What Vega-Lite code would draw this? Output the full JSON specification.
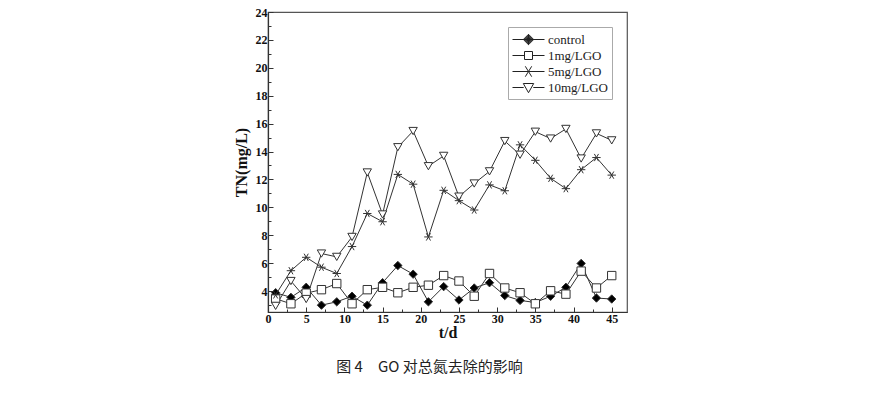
{
  "$schema": "https://vega.github.io/schema/vega-lite/v6.json",
  "width": 359,
  "height": 300,
  "autosize": "none",
  "padding": {"left": 268, "top": 12, "right": 262, "bottom": 83},
  "background": "white",
  "config": {
    "view": {"stroke": "#555", "strokeWidth": 1.2},
    "font": "Liberation Serif"
  },
  "title": {
    "text": "图 4　GO 对总氮去除的影响",
    "orient": "bottom",
    "anchor": "middle",
    "offset": 20,
    "font": "Noto Sans CJK SC",
    "fontSize": 15,
    "fontWeight": "normal",
    "color": "#222",
    "dx": -18
  },
  "data": {
    "values": [
      {"t": 1, "s": "control", "v": 3.88},
      {"t": 3, "s": "control", "v": 3.55},
      {"t": 5, "s": "control", "v": 4.27},
      {"t": 7, "s": "control", "v": 2.99},
      {"t": 9, "s": "control", "v": 3.23},
      {"t": 11, "s": "control", "v": 3.63},
      {"t": 13, "s": "control", "v": 2.99},
      {"t": 15, "s": "control", "v": 4.6},
      {"t": 17, "s": "control", "v": 5.83},
      {"t": 19, "s": "control", "v": 5.21},
      {"t": 21, "s": "control", "v": 3.23},
      {"t": 23, "s": "control", "v": 4.32},
      {"t": 25, "s": "control", "v": 3.36},
      {"t": 27, "s": "control", "v": 4.22},
      {"t": 29, "s": "control", "v": 4.6},
      {"t": 31, "s": "control", "v": 3.68},
      {"t": 33, "s": "control", "v": 3.33},
      {"t": 35, "s": "control", "v": 3.18},
      {"t": 37, "s": "control", "v": 3.63},
      {"t": 39, "s": "control", "v": 4.27},
      {"t": 41, "s": "control", "v": 5.98},
      {"t": 43, "s": "control", "v": 3.5},
      {"t": 45, "s": "control", "v": 3.43},
      {"t": 1, "s": "1mg/LGO", "v": 3.45},
      {"t": 3, "s": "1mg/LGO", "v": 3.09},
      {"t": 5, "s": "1mg/LGO", "v": 3.85},
      {"t": 7, "s": "1mg/LGO", "v": 4.1},
      {"t": 9, "s": "1mg/LGO", "v": 4.54},
      {"t": 11, "s": "1mg/LGO", "v": 3.09},
      {"t": 13, "s": "1mg/LGO", "v": 4.1},
      {"t": 15, "s": "1mg/LGO", "v": 4.27},
      {"t": 17, "s": "1mg/LGO", "v": 3.88},
      {"t": 19, "s": "1mg/LGO", "v": 4.27},
      {"t": 21, "s": "1mg/LGO", "v": 4.42},
      {"t": 23, "s": "1mg/LGO", "v": 5.11},
      {"t": 25, "s": "1mg/LGO", "v": 4.72},
      {"t": 27, "s": "1mg/LGO", "v": 3.63},
      {"t": 29, "s": "1mg/LGO", "v": 5.26},
      {"t": 31, "s": "1mg/LGO", "v": 4.22},
      {"t": 33, "s": "1mg/LGO", "v": 3.88},
      {"t": 35, "s": "1mg/LGO", "v": 3.09},
      {"t": 37, "s": "1mg/LGO", "v": 4.02},
      {"t": 39, "s": "1mg/LGO", "v": 3.78},
      {"t": 41, "s": "1mg/LGO", "v": 5.43},
      {"t": 43, "s": "1mg/LGO", "v": 4.22},
      {"t": 45, "s": "1mg/LGO", "v": 5.11},
      {"t": 1, "s": "5mg/LGO", "v": 3.73},
      {"t": 3, "s": "5mg/LGO", "v": 5.46},
      {"t": 5, "s": "5mg/LGO", "v": 6.42},
      {"t": 7, "s": "5mg/LGO", "v": 5.71},
      {"t": 9, "s": "5mg/LGO", "v": 5.26},
      {"t": 11, "s": "5mg/LGO", "v": 7.19},
      {"t": 13, "s": "5mg/LGO", "v": 9.56},
      {"t": 15, "s": "5mg/LGO", "v": 8.97},
      {"t": 17, "s": "5mg/LGO", "v": 12.36},
      {"t": 19, "s": "5mg/LGO", "v": 11.66},
      {"t": 21, "s": "5mg/LGO", "v": 7.88},
      {"t": 23, "s": "5mg/LGO", "v": 11.22},
      {"t": 25, "s": "5mg/LGO", "v": 10.48},
      {"t": 27, "s": "5mg/LGO", "v": 9.81},
      {"t": 29, "s": "5mg/LGO", "v": 11.61},
      {"t": 31, "s": "5mg/LGO", "v": 11.19},
      {"t": 33, "s": "5mg/LGO", "v": 14.48},
      {"t": 35, "s": "5mg/LGO", "v": 13.37},
      {"t": 37, "s": "5mg/LGO", "v": 12.08},
      {"t": 39, "s": "5mg/LGO", "v": 11.34},
      {"t": 41, "s": "5mg/LGO", "v": 12.7},
      {"t": 43, "s": "5mg/LGO", "v": 13.57},
      {"t": 45, "s": "5mg/LGO", "v": 12.31},
      {"t": 1, "s": "10mg/LGO", "v": 2.94},
      {"t": 3, "s": "10mg/LGO", "v": 4.72},
      {"t": 5, "s": "10mg/LGO", "v": 3.43},
      {"t": 7, "s": "10mg/LGO", "v": 6.69},
      {"t": 9, "s": "10mg/LGO", "v": 6.45},
      {"t": 11, "s": "10mg/LGO", "v": 7.88},
      {"t": 13, "s": "10mg/LGO", "v": 12.5},
      {"t": 15, "s": "10mg/LGO", "v": 9.49},
      {"t": 17, "s": "10mg/LGO", "v": 14.31},
      {"t": 19, "s": "10mg/LGO", "v": 15.47},
      {"t": 21, "s": "10mg/LGO", "v": 12.95},
      {"t": 23, "s": "10mg/LGO", "v": 13.69},
      {"t": 25, "s": "10mg/LGO", "v": 10.77},
      {"t": 27, "s": "10mg/LGO", "v": 11.71},
      {"t": 29, "s": "10mg/LGO", "v": 12.58},
      {"t": 31, "s": "10mg/LGO", "v": 14.75},
      {"t": 33, "s": "10mg/LGO", "v": 13.77},
      {"t": 35, "s": "10mg/LGO", "v": 15.42},
      {"t": 37, "s": "10mg/LGO", "v": 14.93},
      {"t": 39, "s": "10mg/LGO", "v": 15.62},
      {"t": 41, "s": "10mg/LGO", "v": 13.5},
      {"t": 43, "s": "10mg/LGO", "v": 15.3},
      {"t": 45, "s": "10mg/LGO", "v": 14.8}
    ]
  },
  "encoding": {
    "x": {
      "field": "t",
      "type": "quantitative",
      "scale": {"domain": [0, 47], "nice": false, "zero": false},
      "axis": {
        "title": "t/d",
        "titleFont": "Liberation Serif",
        "titleFontSize": 16,
        "titleFontWeight": "bold",
        "titleColor": "#111",
        "titlePadding": 0,
        "values": [0, 2.5, 5, 7.5, 10, 12.5, 15, 17.5, 20, 22.5, 25, 27.5, 30, 32.5, 35, 37.5, 40, 42.5, 45],
        "labelExpr": "datum.value % 5 === 0 ? datum.label : ''",
        "labelFont": "Liberation Serif",
        "labelFontSize": 12,
        "labelFontWeight": "bold",
        "labelColor": "#111",
        "labelPadding": 6,
        "tickSize": {"condition": {"test": "datum.value % 5 !== 0", "value": -3}, "value": -5},
        "tickColor": "#333",
        "domainColor": "#333",
        "domainWidth": 1.2,
        "grid": false,
        "labelFlush": false
      }
    },
    "y": {
      "field": "v",
      "type": "quantitative",
      "scale": {"domain": [2.5, 24], "nice": false, "zero": false},
      "axis": {
        "title": "TN(mg/L)",
        "titleFont": "Liberation Serif",
        "titleFontSize": 16,
        "titleFontWeight": "bold",
        "titleColor": "#111",
        "titlePadding": 6,
        "values": [3, 4, 5, 6, 7, 8, 9, 10, 11, 12, 13, 14, 15, 16, 17, 18, 19, 20, 21, 22, 23, 24],
        "labelExpr": "datum.value % 2 === 0 ? datum.label : ''",
        "labelFont": "Liberation Serif",
        "labelFontSize": 12,
        "labelFontWeight": "bold",
        "labelColor": "#111",
        "labelPadding": 6,
        "tickSize": {"condition": {"test": "datum.value % 2 !== 0", "value": -3}, "value": -5},
        "tickColor": "#333",
        "domainColor": "#333",
        "domainWidth": 1.2,
        "grid": false,
        "labelFlush": false
      }
    }
  },
  "resolve": {"scale": {"shape": "independent"}},
  "layer": [
    {
      "mark": {"type": "line", "color": "#333", "strokeWidth": 1},
      "encoding": {"detail": {"field": "s", "type": "nominal"}}
    },
    {
      "mark": {"type": "point", "size": 70, "strokeWidth": 1, "opacity": 1},
      "encoding": {
        "shape": {
          "field": "s",
          "type": "nominal",
          "scale": {
            "domain": ["control", "1mg/LGO", "5mg/LGO", "10mg/LGO"],
            "range": ["diamond", "square", "M-1,0L1,0M-0.5,-0.866L0.5,0.866M-0.5,0.866L0.5,-0.866", "triangle-down"]
          },
          "legend": null
        },
        "fill": {
          "field": "s",
          "type": "nominal",
          "scale": {
            "domain": ["control", "1mg/LGO", "5mg/LGO", "10mg/LGO"],
            "range": ["black", "white", "white", "white"]
          },
          "legend": null
        },
        "stroke": {"value": "#333"}
      }
    },
    {
      "mark": {"type": "point", "size": 0, "strokeWidth": 1, "opacity": 1, "filled": false, "color": "#222"},
      "encoding": {
        "shape": {
          "field": "s",
          "type": "nominal",
          "scale": {
            "domain": ["control", "1mg/LGO", "5mg/LGO", "10mg/LGO"],
            "range": [
              "M-2,0H2M0,-0.65V0.65M0,-0.65L0.65,0L0,0.65L-0.65,0ZM0,-0.55L0.55,0L0,0.55L-0.55,0ZM0,-0.45L0.45,0L0,0.45L-0.45,0ZM0,-0.35L0.35,0L0,0.35L-0.35,0ZM0,-0.25L0.25,0L0,0.25L-0.25,0ZM0,-0.15L0.15,0L0,0.15L-0.15,0Z",
              "M-2,0H-0.5M0.5,0H2M-0.5,-0.5H0.5V0.5H-0.5Z",
              "M-2,0H2M-0.4,-0.65L0.4,0.65M-0.4,0.65L0.4,-0.65",
              "M-2,0H-0.6M0.6,0H2M-0.65,-0.5H0.65L0,0.65Z"
            ]
          },
          "legend": {
            "title": null,
            "orient": "none",
            "legendX": 240,
            "legendY": 15,
            "strokeColor": "#aaa",
            "fillColor": "white",
            "padding": 4,
            "labelFont": "Liberation Serif",
            "labelFontSize": 13,
            "labelColor": "#222",
            "labelOffset": 11,
            "symbolSize": 256,
            "symbolOffset": 8,
            "symbolStrokeWidth": 1,
            "rowPadding": 0
          }
        }
      }
    }
  ]
}
